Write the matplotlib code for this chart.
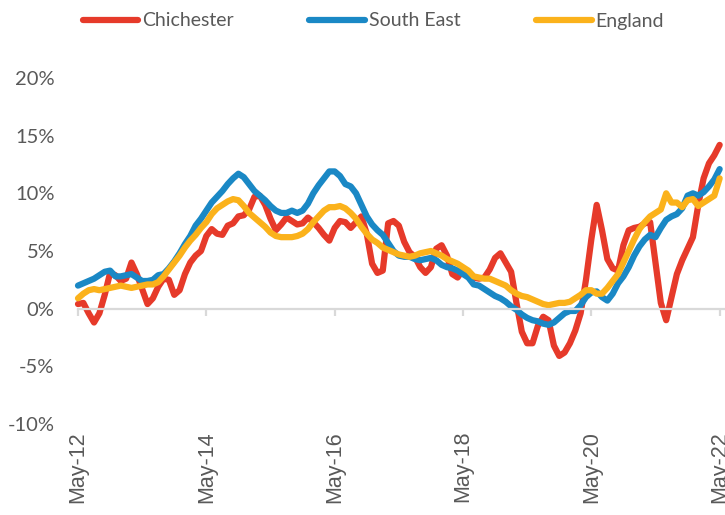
import matplotlib
matplotlib.use("Agg")
import matplotlib.pyplot as plt
import numpy as np

# Monthly series, May-12 .. May-22 (121 months), percent
chichester = [
    0.4, 0.5, -0.4, -1.2, -0.4, 1.2, 3.1, 2.9, 2.4, 2.6,
    4.0, 3.0, 1.7, 0.4, 0.9, 1.9, 2.6, 2.5, 1.2, 1.6,
    3.0, 4.0, 4.6, 5.0, 6.3, 6.9, 6.5, 6.4, 7.2, 7.4,
    8.0, 8.1, 8.6, 9.7, 9.8, 9.0, 7.8, 6.8, 7.3, 7.9,
    7.6, 7.3, 7.4, 7.9, 7.5, 7.0, 6.4, 5.9, 7.0, 7.6,
    7.5, 7.0, 7.5, 8.0, 6.5, 3.9, 3.1, 3.3, 7.4, 7.6,
    7.2, 5.8, 4.9, 4.5, 3.6, 3.1, 3.6, 5.2, 5.5, 4.6,
    3.0, 2.7, 3.4, 3.2, 2.7, 2.6, 2.7, 3.4, 4.4, 4.8,
    4.0, 3.2, 0.5, -2.0, -3.0, -3.0, -1.5, -0.7, -1.0, -3.2,
    -4.1, -3.8, -3.0, -1.9, -0.4, 2.5, 6.0, 9.0, 6.8, 4.3,
    3.5, 3.3, 5.5, 6.8, 7.0, 7.1, 7.4, 7.5, 4.0, 0.5,
    -1.0, 1.0, 3.0, 4.2, 5.2, 6.2, 9.0, 11.3, 12.6, 13.3,
    14.2,
]
south_east = [
    2.0, 2.2, 2.4, 2.6, 2.9, 3.2, 3.3, 2.8, 2.8, 2.9,
    3.0, 2.7, 2.4, 2.4, 2.5, 2.9, 3.0, 3.5, 4.1, 4.8,
    5.6, 6.3, 7.2, 7.8, 8.5, 9.2, 9.7, 10.2, 10.8, 11.3,
    11.7, 11.4, 10.8, 10.2, 9.8, 9.4, 8.9, 8.5, 8.3, 8.3,
    8.5, 8.3, 8.5, 9.1, 10.0, 10.7, 11.3, 11.9, 11.9, 11.5,
    10.8, 10.6, 10.0, 9.0, 8.0, 7.3, 6.8, 6.4, 5.7, 5.0,
    4.6, 4.5, 4.5, 4.3, 4.2, 4.3, 4.4, 4.2, 3.8, 3.6,
    3.5, 3.3, 3.0, 2.7, 2.1, 2.0, 1.7, 1.4, 1.1, 0.9,
    0.6, 0.2, -0.1, -0.5, -0.8, -1.0, -1.1, -1.3, -1.4, -1.2,
    -0.8, -0.4, -0.2, -0.2, 0.3, 1.0, 1.4, 1.5, 1.0, 0.7,
    1.3, 2.2, 2.8, 3.6, 4.6, 5.4, 6.0, 6.4, 6.2, 7.0,
    7.7, 8.0, 8.2, 8.7, 9.8, 10.0, 9.8, 10.1, 10.6, 11.2,
    12.1,
]
england = [
    0.9, 1.3, 1.6, 1.7, 1.6, 1.7, 1.8, 1.9, 2.0, 1.9,
    1.8, 1.9, 2.0, 2.1, 2.1, 2.3, 2.8, 3.4, 4.0, 4.6,
    5.3, 5.9, 6.4, 7.0, 7.5, 8.2, 8.7, 9.0, 9.3, 9.5,
    9.4, 8.9, 8.3, 7.9, 7.5, 7.1, 6.6, 6.3, 6.2, 6.2,
    6.2, 6.3, 6.5, 6.9, 7.5, 8.0, 8.5, 8.8, 8.8, 8.9,
    8.7, 8.3, 7.8, 7.1, 6.5, 6.0, 5.7, 5.3, 5.1, 4.9,
    4.7, 4.6, 4.5, 4.6, 4.8, 4.9, 5.0, 4.8, 4.6, 4.3,
    4.1, 3.9, 3.6, 3.3, 2.8, 2.7, 2.6, 2.6, 2.4, 2.2,
    2.0, 1.6, 1.3, 1.1, 1.0, 0.8, 0.6, 0.4, 0.3, 0.4,
    0.5, 0.5, 0.6, 0.9, 1.2, 1.6, 1.6, 1.3, 1.3, 1.8,
    2.4, 3.0, 4.0, 5.0, 6.0, 6.9, 7.5, 8.0, 8.3, 8.6,
    10.0, 9.2, 9.2, 8.8, 9.4, 9.5, 8.9, 9.2, 9.5, 9.8,
    11.3,
]
series_names = ["Chichester", "South East", "England"]
series_colors = ["#E63A2A", "#1A88C5", "#FBB21B"]
tick_labels = ["May-12", "May-14", "May-16", "May-18", "May-20", "May-22"]
y_ticks = [-10, -5, 0, 5, 10, 15, 20]

GRAY = "#595959"
AXIS_GRAY = "#D9D9D9"

fig = plt.figure(figsize=(7.25, 5.15), dpi=100)
ax = fig.add_axes([78 / 725, 1 - 424 / 515, 1 - 78 / 725, (424 - 78) / 515])

months = np.arange(len(chichester))
for data, name, col in zip([chichester, south_east, england], series_names, series_colors):
    ax.plot(months, data, color=col, lw=4.5, label=name, solid_capstyle="round",
            solid_joinstyle="round", clip_on=False)

ax.set_xlim(0, 121)
ax.set_ylim(-10, 20)

for s in ["top", "right", "left"]:
    ax.spines[s].set_visible(False)
ax.spines["bottom"].set_position(("data", 0))
ax.spines["bottom"].set_color(AXIS_GRAY)
ax.spines["bottom"].set_linewidth(1.6)
ax.set_zorder(1)

tick_pos = [24 * i for i in range(len(tick_labels))]
ax.set_xticks(tick_pos)
ax.tick_params(axis="x", direction="out", length=5, width=1.6, color=AXIS_GRAY,
               labelbottom=False)

ax.set_yticks(y_ticks)
ax.set_yticklabels([f"{v}%" for v in y_ticks])
ax.tick_params(axis="y", length=0, pad=17, labelcolor=GRAY, labelsize=14.5)
for lab in ax.get_yticklabels():
    lab.set_fontfamily("Lato")

sec = ax.secondary_xaxis(0)
sec.set_xticks(tick_pos)
sec.set_xticklabels(tick_labels, rotation=90, fontsize=15.5, color=GRAY,
                    family="Liberation Sans", va="top", ha="center")
sec.tick_params(length=0, pad=5)
sec.spines["bottom"].set_visible(False)

leg = fig.legend(loc="center", bbox_to_anchor=(0.515, 1 - 21 / 515), ncol=3,
                 frameon=False, handlelength=2.85, handletextpad=0.2,
                 columnspacing=3.9, prop={"family": "Lato", "size": 14})
for t in leg.get_texts():
    t.set_color(GRAY)
for h in leg.get_lines():
    h.set_linewidth(4.5)
    h.set_solid_capstyle("round")

fig.savefig("out.png", dpi=100)
